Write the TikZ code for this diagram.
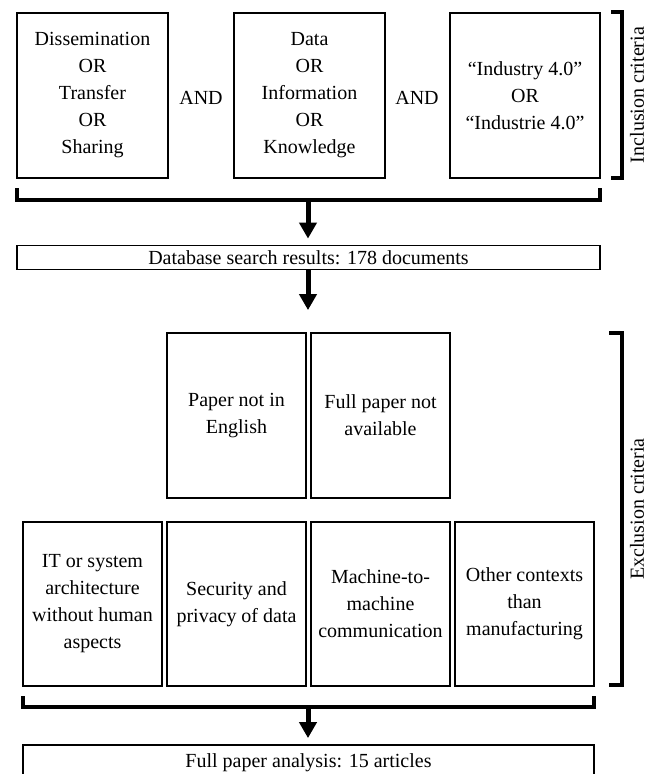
\documentclass[tikz,border=0pt]{standalone}
\usepackage{fontspec}
\setmainfont{Liberation Serif}
\usetikzlibrary{arrows.meta}

\begin{document}
\begin{tikzpicture}[x=1pt,y=-1pt]
   \tikzstyle{crit}=[draw, line width=1.8pt, align=center, inner sep=0pt, font=\fontsize{20}{27}\selectfont]
   \tikzstyle{wide}=[crit, minimum height=24pt]
   \tikzstyle{word}=[font=\fontsize{20}{27}\selectfont]
   \tikzstyle{brace}=[line width=3.5pt]
   \tikzstyle{flow}=[line width=5pt, -{Triangle[width=17pt,length=16pt]}]

\useasboundingbox (0,0) rectangle (656,774);

% inclusion criteria
\node[crit, minimum width=151pt, minimum height=165pt] (diss) at (92.5,95.5) {Dissemination\\OR\\Transfer\\OR\\Sharing};
\node[crit, minimum width=151pt, minimum height=165pt] (data) at (309.5,95.5) {Data\\OR\\Information\\OR\\Knowledge};
\node[crit, minimum width=150pt, minimum height=165pt] (ind) at (525,95.5) {``Industry 4.0''\\OR\\``Industrie 4.0''};
\node[word] (and1) at (201,98) {AND};
\node[word] (and2) at (417,98) {AND};

\draw[brace] (611,12) -- (622,12) -- (622,178) -- (611,178);
\node[word, rotate=90] (inc) at (637,95) {Inclusion criteria};

\draw[brace] (17,188) -- (17,200) -- (600,200) -- (600,188);
\coordinate (incl) at (308,200);

\node[wide, minimum width=583pt] (db) at (308.5,257.5) {Database search results: 178 documents};
\draw[flow, shorten >=6pt] (incl) -- (incl |- db.north);

% exclusion criteria
\node[crit, minimum width=139pt, minimum height=165pt] (eng) at (236.5,415.5) {Paper not in\\English};
\node[crit, minimum width=139pt, minimum height=165pt] (avail) at (380.5,415.5) {Full paper not\\available};
\draw[flow, shorten >=22pt] (db.south -| incl) -- (incl |- eng.north);

\node[crit, minimum width=139pt, minimum height=164pt] (arch) at (92.5,604) {IT or system\\architecture\\without human\\aspects};
\node[crit, minimum width=139pt, minimum height=164pt] (sec) at (236.5,604) {Security and\\privacy of data};
\node[crit, minimum width=139pt, minimum height=164pt] (mtm) at (380.5,604) {Machine-to-\\machine\\communication};
\node[crit, minimum width=139pt, minimum height=164pt] (ctx) at (524.5,604) {Other contexts\\than\\manufacturing};

\draw[brace] (609,333) -- (622,333) -- (622,685) -- (609,685);
\node[word, rotate=90] (exc) at (637,509) {Exclusion criteria};

\draw[brace] (23,696) -- (23,707) -- (594,707) -- (594,696);
\coordinate (excl) at (308,707);

\node[wide, minimum width=571pt, minimum height=36pt] (full) at (308.5,763) {Full paper analysis: 15 articles};
\draw[flow, shorten >=6pt] (excl) -- (excl |- full.north);

\end{tikzpicture}
\end{document}
